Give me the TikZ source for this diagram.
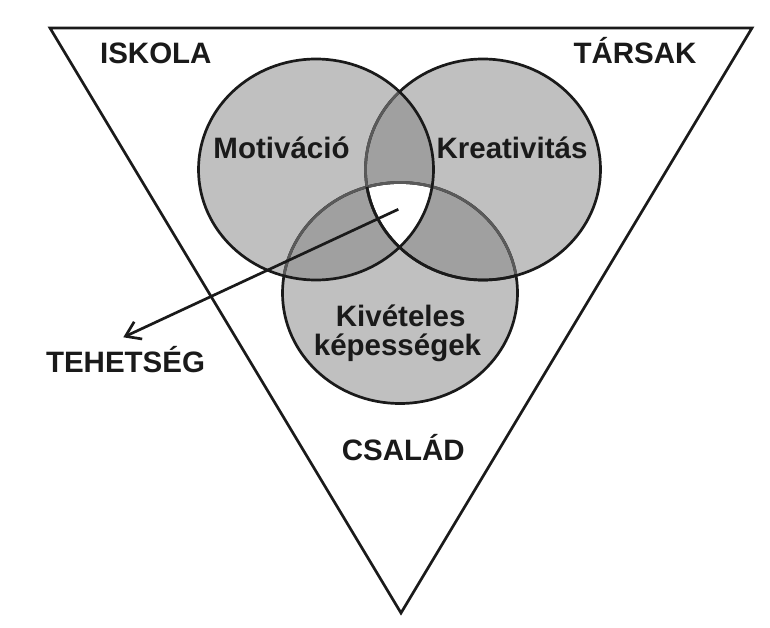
\documentclass[tikz,border=0pt]{standalone}
\usepackage{fontspec}
\setmainfont{Liberation Sans}
\usetikzlibrary{arrows.meta}
\definecolor{lightfill}{HTML}{C0C0C0}
\definecolor{darkfill}{HTML}{A0A0A0}
\definecolor{ink}{HTML}{1A1A1A}
\definecolor{softink}{HTML}{5A5A5A}
\begin{document}
\begin{tikzpicture}[x=1pt,y=-1pt,
  lbl/.style={font=\fontsize{29.5}{35}\selectfont\bfseries, text=ink, anchor=base, inner sep=0pt},
  edge/.style={line width=2.7pt, draw=ink},
  softedge/.style={line width=2.7pt, draw=softink},
  pointer/.style={line width=2.7pt, draw=ink, -{Straight Barb[length=14pt,width=19pt,line width=2.7pt]}},
]
\useasboundingbox (0,0) rectangle (770,628);
\def\Mot{(316,169.5) ellipse [x radius=117.5pt, y radius=110.5pt]}
\def\Kre{(483,169.5) ellipse [x radius=117.5pt, y radius=110.5pt]}
\def\Kiv{(400,293) ellipse [x radius=117.5pt, y radius=110.5pt]}

% triangle
\coordinate (tl) at (50,28);
\coordinate (tr) at (752,28);
\coordinate (bt) at (401,613);
\draw[edge, line join=miter] (tl) -- (tr) -- (bt) -- cycle;

% fills
\fill[lightfill] \Mot;
\fill[lightfill] \Kre;
\fill[lightfill] \Kiv;
\begin{scope}\clip \Mot; \fill[darkfill] \Kre; \fill[darkfill] \Kiv; \end{scope}
\begin{scope}\clip \Kre; \fill[darkfill] \Kiv; \end{scope}
\begin{scope}\clip \Mot; \clip \Kre; \fill[white] \Kiv; \end{scope}

% outlines
\draw[edge] \Kiv;
\begin{scope}\clip \Mot; \draw[softedge] \Kiv; \end{scope}
\begin{scope}\clip \Kre; \draw[softedge] \Kiv; \end{scope}
\draw[edge] \Kre;
\begin{scope}\clip \Mot; \draw[softedge] \Kre; \end{scope}
\begin{scope}\clip \Kiv; \draw[edge] \Kre; \end{scope}
\draw[edge] \Mot;

% labels
\node[lbl] (iskola) at (155.8,63.3) {ISKOLA};
\node[lbl] (tarsak) at (635,63.3) {TÁRSAK};
\node[lbl] (motiv) at (281.5,158.3) {Motiváció};
\node[lbl] (kreat) at (512,158.3) {Kreativitás};
\node[lbl] (kivet) at (400.7,326.7) {Kivételes};
\node[lbl] (kepes) at (397.5,355) {képességek};
\node[lbl] (tehet) at (125.5,372.7) {TEHETSÉG};
\node[lbl] (csalad) at (403.3,460) {CSALÁD};

% arrow
\coordinate (core) at (398.3,209.3);
\coordinate (tip) at (123.3,337.3);
\draw[pointer] (core) -- (tip);
\end{tikzpicture}
\end{document}
